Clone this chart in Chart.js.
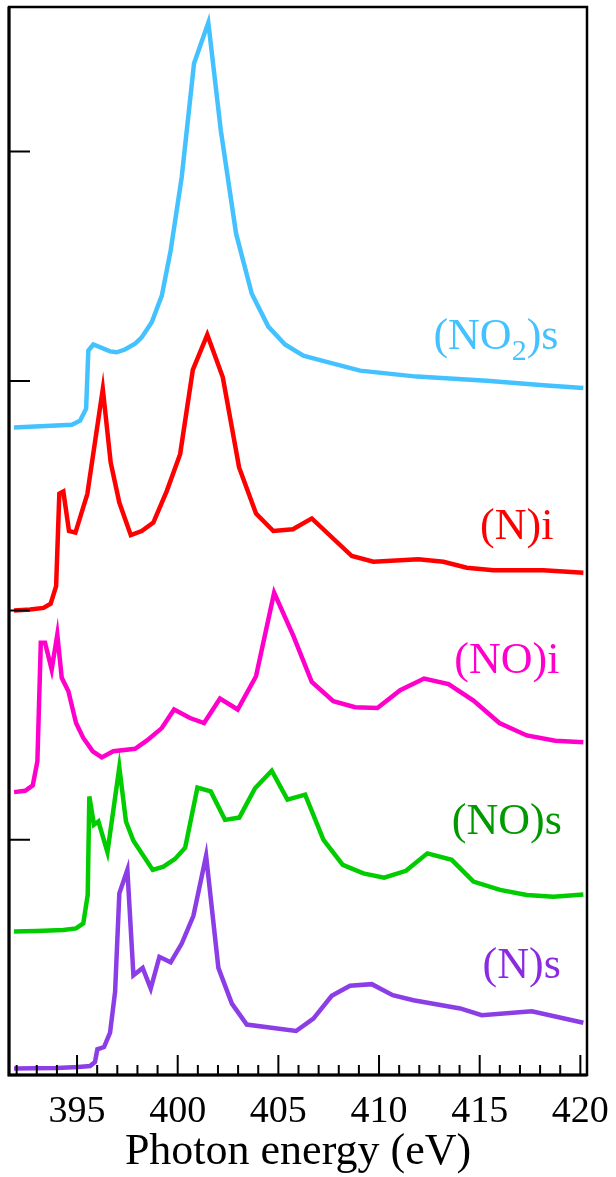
<!DOCTYPE html>
<html>
<head>
<meta charset="utf-8">
<script src="https://cdn.jsdelivr.net/npm/chart.js@4/dist/chart.umd.min.js"></script>
<style>
  html, body { margin: 0; padding: 0; background: #fff; }
  #wrap { width: 616px; height: 1177px; }
</style>
</head>
<body>
<div id="wrap"><canvas id="spectra"></canvas></div>
<script>
// photon energy (eV) and offset intensity for each spectrum
const energyNO2s = [391.87,394.74,395.15,395.45,395.56,395.81,396.64,396.97,397.38,397.88,398.21,398.71,399.21,399.65,400.2,400.81,401.52,402.14,402.9,403.68,404.5,405.33,406.24,407.16,409.06,411.88,415.35,418.33,420.15];
const signalNO2s = [2.797,2.809,2.827,2.879,3.132,3.159,3.129,3.125,3.137,3.162,3.190,3.256,3.372,3.569,3.889,4.384,4.562,4.093,3.642,3.380,3.237,3.159,3.110,3.089,3.045,3.019,3.001,2.980,2.969];

const energyNi = [391.87,392.67,393.33,393.69,393.96,394.12,394.32,394.6,394.92,395.51,396.28,396.67,397.1,397.67,398.21,398.79,399.46,400.12,400.75,401.47,402.24,403.05,403.89,404.75,405.72,406.66,408.65,409.72,411.95,413.2,414.36,415.68,418.16,420.15];
const signalNi = [2.0,2.004,2.011,2.029,2.106,2.509,2.518,2.346,2.339,2.507,2.965,2.645,2.470,2.328,2.346,2.383,2.521,2.681,3.048,3.202,3.016,2.623,2.422,2.346,2.354,2.401,2.237,2.212,2.223,2.212,2.186,2.175,2.175,2.164];

const energyNOi = [391.87,392.42,392.8,393.03,393.2,393.41,393.74,394.02,394.24,394.57,394.95,395.31,395.78,396.23,396.8,397.88,398.46,399.21,399.82,400.61,401.31,402.1,402.98,403.89,404.79,405.75,406.66,407.73,408.81,409.92,411.05,412.24,413.45,414.69,415.98,417.34,418.75,420.15];
const signalNOi = [1.208,1.214,1.237,1.342,1.859,1.859,1.742,1.895,1.706,1.648,1.509,1.444,1.386,1.359,1.386,1.397,1.432,1.487,1.568,1.531,1.509,1.616,1.568,1.713,2.077,1.888,1.688,1.604,1.578,1.575,1.652,1.703,1.679,1.607,1.509,1.455,1.432,1.425];

const energyNOs = [391.87,393.0,394.32,394.95,395.31,395.53,395.61,395.84,396.06,396.51,397.1,397.43,397.8,398.76,399.29,399.87,400.37,400.98,401.64,402.35,403.06,403.84,404.67,405.45,406.33,407.24,408.2,409.22,410.25,411.34,412.4,413.61,414.69,416.01,417.34,418.66,420.15];
const signalNOs = [0.6,0.603,0.607,0.614,0.636,0.760,1.189,1.066,1.080,0.946,1.316,1.080,0.996,0.869,0.883,0.917,0.966,1.228,1.211,1.087,1.097,1.225,1.301,1.175,1.197,1.0,0.891,0.854,0.835,0.865,0.941,0.913,0.818,0.782,0.760,0.752,0.762];

const energyNs = [391.87,393.99,395.06,395.65,395.89,396.01,396.34,396.64,396.89,397.1,397.5,397.8,398.26,398.66,399.09,399.65,400.2,400.78,401.41,402.02,402.69,403.43,405.88,406.74,407.65,408.56,409.64,410.68,411.71,414.03,415.1,417.59,420.15];
const signalNs = [0.003,0.006,0.010,0.014,0.032,0.087,0.097,0.160,0.338,0.767,0.869,0.410,0.442,0.352,0.490,0.466,0.548,0.669,0.931,0.442,0.286,0.195,0.167,0.221,0.320,0.364,0.371,0.323,0.301,0.265,0.236,0.253,0.203];

// axis ticks
const xTickLabels = [395, 400, 405, 410, 415, 420];
const xMinorTicks = [392,393,394,396,397,398,399,401,402,403,404,406,407,408,409,411,412,413,414,416,417,418,419];
const yTicks = [1, 2, 3, 4];

// curve names and where their labels sit (right edge x, baseline y)
const seriesNames = ['(NO2)s', '(N)i', '(NO)i', '(NO)s', '(N)s'];
const labelX = [418.91, 418.66, 418.96, 419.08, 419.03];
const labelY = [3.140, 2.310, 1.728, 1.024, 0.396];

const SERIF = '"Liberation Serif", "Times New Roman", "DejaVu Serif", serif';

function pts(xs, ys) {
  return xs.map((x, i) => ({ x: x, y: ys[i] }));
}

const lineColors = ['#44c2ff', '#ff0000', '#ff00cc', '#00cc00', '#8c3ee6'];
const textColors = ['#44c2ff', '#ff0000', '#ff00cc', '#009900', '#8a2be2'];

const seriesData = [
  pts(energyNO2s, signalNO2s),
  pts(energyNi, signalNi),
  pts(energyNOi, signalNOi),
  pts(energyNOs, signalNOs),
  pts(energyNs, signalNs)
];

// frame, inward ticks and curve labels
const framePlugin = {
  id: 'frame',
  afterDatasetsDraw(chart) {
    const { ctx, chartArea: a, scales: { x, y } } = chart;
    ctx.save();
    ctx.strokeStyle = '#000';
    ctx.lineWidth = 2;
    ctx.beginPath();
    xTickLabels.forEach(v => {
      const px = x.getPixelForValue(v);
      ctx.moveTo(px, a.bottom); ctx.lineTo(px, a.bottom - 20);
    });
    xMinorTicks.forEach(v => {
      const px = x.getPixelForValue(v);
      ctx.moveTo(px, a.bottom); ctx.lineTo(px, a.bottom - 10);
    });
    yTicks.forEach(v => {
      const py = y.getPixelForValue(v);
      ctx.moveTo(a.left, py); ctx.lineTo(a.left + 21, py);
    });
    ctx.stroke();

    ctx.lineWidth = 2.5;
    ctx.strokeRect(a.left, a.top, a.right - a.left, a.bottom - a.top);
    ctx.lineWidth = 3;
    ctx.beginPath();
    ctx.moveTo(a.left, a.top); ctx.lineTo(a.left, a.bottom); ctx.lineTo(a.right, a.bottom);
    ctx.stroke();

    // labels
    ctx.textBaseline = 'alphabetic';
    seriesNames.forEach((name, i) => {
      const px = x.getPixelForValue(labelX[i]);
      const py = y.getPixelForValue(labelY[i]);
      ctx.fillStyle = textColors[i];
      if (name === '(NO2)s') {
        ctx.font = '44px ' + SERIF;
        const w1 = ctx.measureText('(NO').width;
        const w3 = ctx.measureText(')s').width;
        ctx.font = '30px ' + SERIF;
        const w2 = ctx.measureText('2').width;
        let sx = px - (w1 + w2 + w3);
        ctx.textAlign = 'left';
        ctx.font = '44px ' + SERIF;
        ctx.fillText('(NO', sx, py);
        ctx.font = '30px ' + SERIF;
        ctx.fillText('2', sx + w1, py + 11);
        ctx.font = '44px ' + SERIF;
        ctx.fillText(')s', sx + w1 + w2, py);
      } else {
        ctx.font = '44px ' + SERIF;
        ctx.textAlign = 'right';
        ctx.fillText(name, px, py);
      }
    });
    ctx.restore();
  }
};

new Chart(document.getElementById('spectra'), {
  type: 'scatter',
  data: {
    datasets: seriesData.map((d, i) => ({
      label: seriesNames[i],
      data: d,
      showLine: true,
      borderColor: lineColors[i],
      backgroundColor: lineColors[i],
      borderWidth: 4.5,
      pointRadius: 0,
      tension: 0,
      borderJoinStyle: 'miter'
    }))
  },
  options: {
    responsive: true,
    maintainAspectRatio: false,
    animation: false,
    layout: { padding: { left: 9, right: 29, top: 7, bottom: 20.6 } },
    plugins: {
      legend: { display: false },
      tooltip: { enabled: false }
    },
    scales: {
      x: {
        type: 'linear',
        min: 391.62,
        max: 420.33,
        grid: { display: false, drawTicks: false },
        border: { display: false },
        afterBuildTicks: axis => { axis.ticks = xTickLabels.map(v => ({ value: v })); },
        afterFit: axis => { axis.paddingLeft = 0; axis.paddingRight = 0; },
        ticks: {
          autoSkip: false,
          maxRotation: 0,
          padding: 4,
          color: '#000',
          font: { family: SERIF, size: 38, lineHeight: 1.7368 },
          callback: v => String(v)
        },
        title: {
          display: true,
          text: 'Photon energy (eV)',
          color: '#000',
          padding: { top: 0, bottom: 0 },
          font: { family: SERIF, size: 44, lineHeight: 0.168 }
        }
      },
      y: {
        type: 'linear',
        display: false,
        min: -0.025,
        max: 4.63
      }
    }
  },
  plugins: [framePlugin]
});
</script>
</body>
</html>
